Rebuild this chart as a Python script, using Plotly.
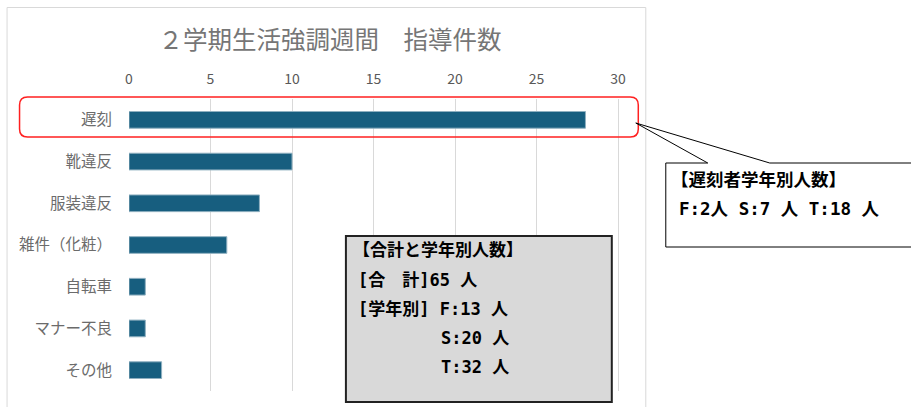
import plotly.graph_objects as go

categories = ["遅刻", "靴違反", "服装違反", "雑件（化粧）", "自転車", "マナー不良", "その他"]
counts = [28, 10, 8, 6, 1, 1, 2]
tick_vals = [0, 5, 10, 15, 20, 25, 30]

title_text = "２学期生活強調週間　指導件数"
summary_lines = ["【合計と学年別人数】", "[合　計]65 人", "[学年別] F:13 人", "S:20 人", "T:32 人"]
callout_lines = ["【遅刻者学年別人数】", "F:2人 S:7 人 T:18 人"]

W, H = 911, 407
L, R, T, B = 129, 620.2, 99, 391
XMAX = 30.12

def fx(px):
    return (px - L) / (R - L)

def fy(py):
    return (B - py) / (B - T)

FONT = "Noto Sans CJK JP"
BOX_FONT = "DejaVu Sans Mono, Noto Sans CJK JP"

fig = go.Figure(go.Bar(
    x=counts, y=categories, orientation="h",
    marker=dict(color="#175e7f", line=dict(color="#8fb0c0", width=1)),
    width=0.4, hoverinfo="skip",
))

shapes = []
# outer chart frame
shapes.append(dict(type="rect", xref="paper", yref="paper",
                   x0=fx(7), x1=fx(646), y0=fy(7.5), y1=fy(430),
                   line=dict(color="#d9d9d9", width=1), fillcolor="rgba(0,0,0,0)", layer="below"))

# red rounded rectangle
x0, x1, y0, y1, r = 19.5, 638.5, 97, 137, 8
def P(px, py):
    return f"{fx(px)},{fy(py)}"
path = (f"M {P(x0 + r, y0)} L {P(x1 - r, y0)} Q {P(x1, y0)} {P(x1, y0 + r)} "
        f"L {P(x1, y1 - r)} Q {P(x1, y1)} {P(x1 - r, y1)} L {P(x0 + r, y1)} "
        f"Q {P(x0, y1)} {P(x0, y1 - r)} L {P(x0, y0 + r)} Q {P(x0, y0)} {P(x0 + r, y0)} Z")
shapes.append(dict(type="path", xref="paper", yref="paper", path=path,
                   line=dict(color="#ff2020", width=1.5), fillcolor="rgba(0,0,0,0)"))

# callout box with pointer
cpath = (f"M {P(666, 163)} L {P(708, 163)} L {P(636, 123)} L {P(770, 163)} "
         f"L {P(925, 163)} L {P(925, 247)} L {P(666, 247)} Z")
shapes.append(dict(type="path", xref="paper", yref="paper", path=cpath,
                   line=dict(color="black", width=1), fillcolor="white"))

# gray summary box
shapes.append(dict(type="rect", xref="paper", yref="paper",
                   x0=fx(346), x1=fx(612), y0=fy(236), y1=fy(402),
                   line=dict(color="#222222", width=2), fillcolor="#d9d9d9"))

annotations = []
sum_pos = [(351, 250), (356, 280), (356, 309), (439, 338), (439, 367)]
for txt, (px, py) in zip(summary_lines, sum_pos):
    annotations.append(dict(text=f"<b>{txt}</b>", xref="paper", yref="paper", x=fx(px), y=fy(py),
                            xanchor="left", yanchor="middle", showarrow=False,
                            font=dict(family=BOX_FONT, size=17, color="black")))
call_pos = [(669, 180), (677, 209)]
for txt, (px, py) in zip(callout_lines, call_pos):
    annotations.append(dict(text=f"<b>{txt}</b>", xref="paper", yref="paper", x=fx(px), y=fy(py),
                            xanchor="left", yanchor="middle", showarrow=False,
                            font=dict(family=BOX_FONT, size=17.5, color="black")))

fig.update_layout(
    width=W, height=H,
    margin=dict(l=L, r=W - R, t=T, b=H - B),
    paper_bgcolor="white", plot_bgcolor="white",
    title=dict(text=title_text, x=330 / W, xanchor="center", y=1 - 40 / H, yanchor="middle",
               font=dict(family=FONT, size=24.5, color="#767676")),
    xaxis=dict(side="top", range=[0, XMAX], tickvals=tick_vals,
               showgrid=True, gridcolor="#d9d9d9", gridwidth=1, zeroline=False,
               showline=False, ticks="", ticklabelstandoff=11,
               tickfont=dict(family=FONT, size=14, color="#595959")),
    yaxis=dict(autorange="reversed", showgrid=False, zeroline=False, showline=False,
               ticks="", ticklabelstandoff=16,
               tickfont=dict(family=FONT, size=15.5, color="#6b6b6b")),
    shapes=shapes, annotations=annotations,
    showlegend=False, hovermode=False,
)

fig.write_html("out.html", config={"displayModeBar": False},
               post_script="document.body.style.margin='0';document.body.style.padding='0';")
